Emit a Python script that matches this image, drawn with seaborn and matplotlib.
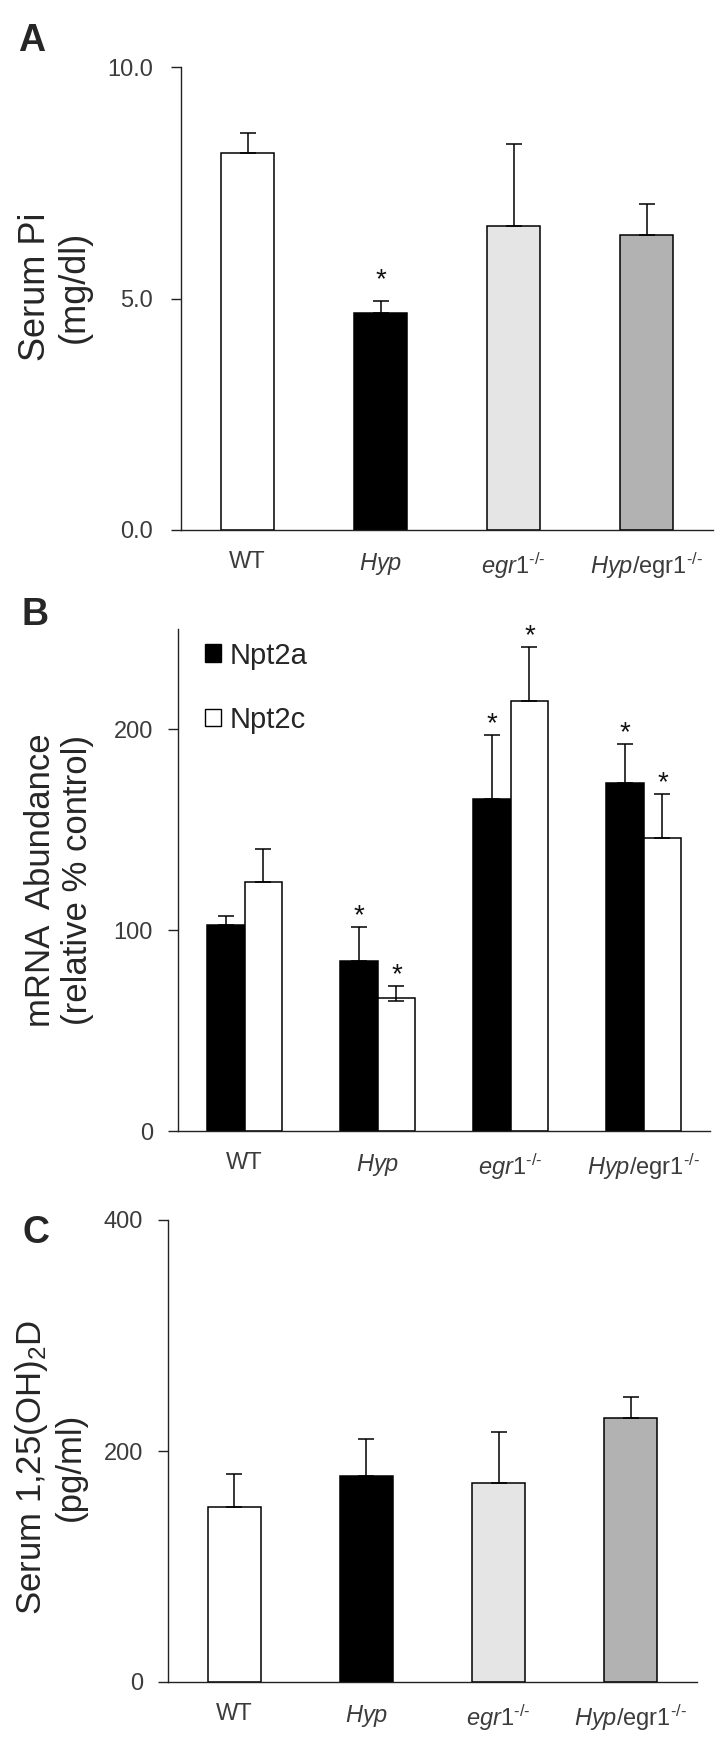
import numpy as np
import pandas as pd
import matplotlib
matplotlib.use("Agg")
import matplotlib.pyplot as plt
import seaborn as sns
from matplotlib.patches import Patch

# ==========================================================
# Data
# ==========================================================
genotypes = ["WT", "Hyp", "egr1", "Hyp/egr1"]
tick_labels = ["WT", r"$\mathit{Hyp}$", r"$\mathit{egr1}^{\text{-/-}}$",
               r"$\mathit{Hyp}/\mathrm{egr1}^{\text{-/-}}$"]
bar_colors = ["#ffffff", "#000000", "#e5e5e5", "#b2b2b2"]

# A: serum Pi (mg/dl)
pi_mean = [8.14, 4.69, 6.57, 6.37]
pi_err = [0.43, 0.26, 1.77, 0.67]
pi_sig = [False, True, False, False]

# B: mRNA abundance (relative % control)
genes = ["Npt2a", "Npt2c"]
npt2a_mean = [102.5, 84.6, 165.3, 173.2]
npt2a_err = [4.5, 16.9, 31.7, 19.5]
npt2a_sig = [False, True, True, True]
npt2c_mean = [124.0, 66.3, 214.0, 145.8]
npt2c_err = [16.6, 5.8, 27.0, 22.0]
npt2c_err_low = [0.0, 1.6, 0.0, 0.0]
npt2c_sig = [False, True, True, True]

# C: serum 1,25(OH)2D (pg/ml)
vitd_mean = [151.5, 178.4, 172.3, 228.6]
vitd_err = [28.5, 32.0, 44.2, 18.2]

# ==========================================================
# Style
# ==========================================================
sns.set_theme(style="ticks")
plt.rcParams["font.family"] = ["Liberation Sans", "DejaVu Sans"]
plt.rcParams["mathtext.fontset"] = "custom"
plt.rcParams["mathtext.rm"] = "Liberation Sans"
plt.rcParams["mathtext.it"] = "Liberation Sans:italic"
plt.rcParams["mathtext.bf"] = "Liberation Sans:bold"

TICK_COLOR = "#3c3c3c"
W, H = 728, 1738
fig = plt.figure(figsize=(W / 100, H / 100), dpi=100)


def add_axes(left, right, top, bottom):
    return fig.add_axes([left / W, 1 - bottom / H, (right - left) / W, (bottom - top) / H])


def style_axes(ax, ylim, yticks, yticklabels, ypad):
    ax.set_xlim(-0.5, 3.5)
    ax.set_ylim(*ylim)
    ax.set_yticks(yticks)
    ax.set_yticklabels(yticklabels)
    ax.set_xticks(range(4))
    ax.set_xticklabels(tick_labels)
    ax.set_xlabel("")
    sns.despine(ax=ax)
    for s in ["left", "bottom"]:
        ax.spines[s].set_linewidth(1.0)
        ax.spines[s].set_color("#222222")
    ax.tick_params(axis="y", length=7, width=1.0, color="#222222", pad=ypad,
                   labelsize=17, labelcolor=TICK_COLOR, direction="out")
    ax.tick_params(axis="x", length=0, pad=15, labelsize=17, labelcolor=TICK_COLOR)


def bar_centers(ax):
    ps = sorted(ax.patches, key=lambda p: p.get_x())
    return [p.get_x() + p.get_width() / 2 for p in ps], [p.get_height() for p in ps]


def add_errors(ax, xs, ys, low, high, cap=5.8):
    ax.errorbar(xs, ys, yerr=[low, high], fmt="none", ecolor="black",
                elinewidth=1.1, capsize=cap, capthick=1.1, zorder=3)


def add_stars(ax, xs, tops, flags, offset):
    for x, t, f in zip(xs, tops, flags):
        if f:
            ax.annotate("*", xy=(x, t), xytext=(0, offset), textcoords="offset points",
                        ha="center", va="baseline", fontsize=20, color="#111111")


# ==========================================================
# Panel A
# ==========================================================
axA = add_axes(181, 713, 67, 530)
dfA = pd.DataFrame({"genotype": genotypes, "value": pi_mean})
sns.barplot(data=dfA, x="genotype", y="value", hue="genotype",
            palette=dict(zip(genotypes, bar_colors)), edgecolor="black",
            linewidth=1.1, width=0.4, legend=False, ax=axA)
xs, hs = bar_centers(axA)
add_errors(axA, xs, hs, np.zeros(4), pi_err)
add_stars(axA, xs, np.array(pi_mean) + np.array(pi_err), pi_sig, 10)
style_axes(axA, (0, 10), [0, 5, 10], ["0.0", "5.0", "10.0"], 13)
axA.set_ylabel("Serum Pi\n(mg/dl)", fontsize=26, linespacing=1.15)
axA.yaxis.set_label_coords(-0.168, 0.525)

# ==========================================================
# Panel B
# ==========================================================
axB = add_axes(178, 710, 629, 1131)
dfB = pd.DataFrame({
    "genotype": genotypes * 2,
    "gene": ["Npt2a"] * 4 + ["Npt2c"] * 4,
    "value": npt2a_mean + npt2c_mean,
})
sns.barplot(data=dfB, x="genotype", y="value", hue="gene", hue_order=genes,
            palette=["black", "white"], edgecolor="black", linewidth=1.1,
            width=0.57, legend=False, ax=axB)
xs, hs = bar_centers(axB)
# sorted by x: WT-a, WT-c, Hyp-a, Hyp-c, ...
low = [v for pair in zip([0.0] * 4, npt2c_err_low) for v in pair]
high = [v for pair in zip(npt2a_err, npt2c_err) for v in pair]
sig = [v for pair in zip(npt2a_sig, npt2c_sig) for v in pair]
add_errors(axB, xs, hs, low, high, cap=5.8)
add_stars(axB, xs, np.array(hs) + np.array(high), sig, 3)
style_axes(axB, (0, 250), [0, 100, 200], ["0", "100", "200"], 11)
axB.set_ylabel("mRNA  Abundance\n(relative % control)", fontsize=25, linespacing=1.15)
axB.yaxis.set_label_coords(-0.158, 0.5)
handles = [Patch(facecolor="black", edgecolor="black", linewidth=1.0),
           Patch(facecolor="white", edgecolor="black", linewidth=1.0)]
axB.legend(handles, genes, loc="upper left", bbox_to_anchor=(0.05, 0.975),
           frameon=False, fontsize=21, handlelength=0.55, handleheight=0.55,
           handletextpad=0.3, labelspacing=1.25, borderaxespad=0, borderpad=0)

# ==========================================================
# Panel C
# ==========================================================
axC = add_axes(168, 697, 1220, 1682)
dfC = pd.DataFrame({"genotype": genotypes, "value": vitd_mean})
sns.barplot(data=dfC, x="genotype", y="value", hue="genotype",
            palette=dict(zip(genotypes, bar_colors)), edgecolor="black",
            linewidth=1.1, width=0.4, legend=False, ax=axC)
xs, hs = bar_centers(axC)
add_errors(axC, xs, hs, np.zeros(4), vitd_err)
style_axes(axC, (0, 400), [0, 200, 400], ["0", "200", "400"], 11)
axC.set_ylabel("Serum 1,25(OH)$_2$D\n(pg/ml)", fontsize=25, linespacing=1.15)
axC.yaxis.set_label_coords(-0.153, 0.465)

# panel letters
for letter, x, y in [("A", 18, 23), ("B", 22, 597), ("C", 22, 1215)]:
    fig.text(x / W, 1 - y / H, letter, ha="left", va="top", fontsize=27, fontweight="bold")

fig.savefig("out.png", dpi=100)
